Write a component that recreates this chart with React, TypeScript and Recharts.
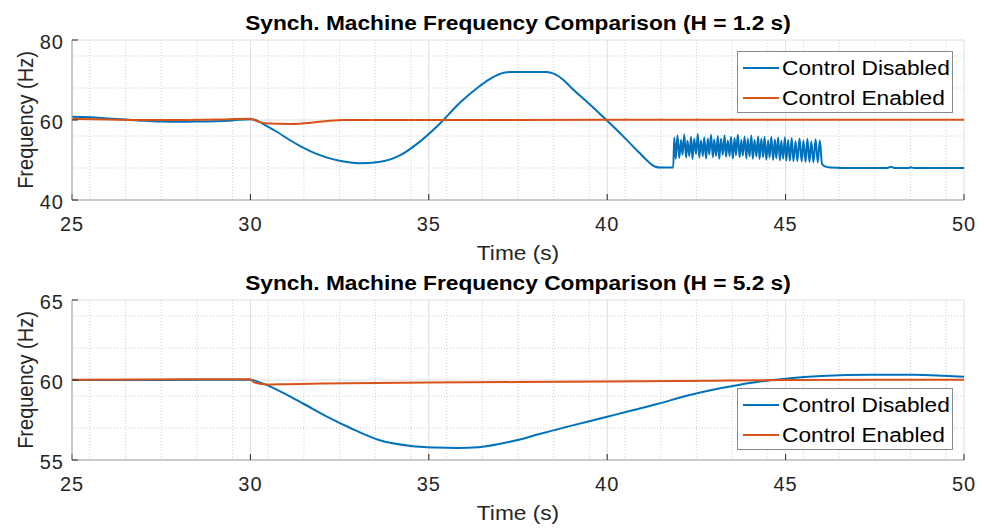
import { LineChart, Line, XAxis, YAxis, CartesianGrid, Legend, Label } from 'recharts';

const BLUE = '#0072BD';
const ORANGE = '#D95319';
const FONT = '"Liberation Sans", Arial, Helvetica, sans-serif';
const STRETCH = 1.135; // the source image is a bit wider than tall

const seriesNames = ['Control Disabled', 'Control Enabled'];
const titles = [
  'Synch. Machine Frequency Comparison (H = 1.2 s)',
  'Synch. Machine Frequency Comparison (H = 5.2 s)',
];

const xTicks = [25, 30, 35, 40, 45, 50];
const xMinor = [
  25.5, 26, 26.5, 27, 27.5, 28, 28.5, 29, 29.5, 30.5, 31, 31.5, 32, 32.5, 33, 33.5, 34, 34.5,
  35.5, 36, 36.5, 37, 37.5, 38, 38.5, 39, 39.5, 40.5, 41, 41.5, 42, 42.5, 43, 43.5, 44, 44.5,
  45.5, 46, 46.5, 47, 47.5, 48, 48.5, 49, 49.5,
];
const topYTicks = [40, 60, 80];
const topYMinor = [44, 48, 52, 56, 64, 68, 72, 76];
const bottomYTicks = [55, 60, 65];
const bottomYMinor = [56, 57, 58, 59, 61, 62, 63, 64];

// [time (s), frequency (Hz)]
const topDisabled: [number, number][] = [
  [25, 60.8], [25.5, 60.7], [26, 60.4], [26.5, 60.1], [27, 59.8], [27.5, 59.6], [28, 59.55],
  [28.5, 59.6], [29, 59.7], [29.5, 59.9], [30, 60.2], [30.15, 60.0], [30.4, 58.8], [30.75, 57.0],
  [31.1, 55.0], [31.45, 53.2], [31.8, 51.7], [32.15, 50.6], [32.5, 49.8], [33.05, 49.2],
  [33.6, 49.5], [34.2, 51.2], [34.75, 54.6], [35.3, 59.0], [35.87, 64.3], [36.43, 68.5],
  [36.8, 70.7], [37.1, 71.8], [37.3, 72], [38.3, 72], [38.5, 71.6], [38.75, 70.2], [39.0, 68.0],
  [39.5, 64.0], [40.0, 59.8], [40.45, 55.9], [40.9, 51.8], [41.2, 49.2], [41.35, 48.3],
  [41.5, 48.1], [41.85, 48.1],
  [41.88, 55.6], [41.92, 50.3], [41.97, 56.2], [42.02, 50.5], [42.07, 55.0], [42.11, 51.3],
  [42.16, 56.4], [42.21, 50.6], [42.25, 54.8], [42.3, 51.0], [42.35, 55.8], [42.39, 50.2],
  [42.44, 55.3], [42.49, 51.5], [42.54, 56.5], [42.58, 50.6], [42.63, 54.9], [42.68, 51.0],
  [42.72, 55.7], [42.77, 50.4], [42.82, 55.4], [42.86, 51.4], [42.91, 56.3], [42.96, 50.7],
  [43.0, 55.1], [43.05, 51.0], [43.1, 56.0], [43.14, 50.3], [43.19, 55.3], [43.24, 51.3],
  [43.29, 56.2], [43.33, 50.8], [43.38, 54.9], [43.43, 51.0], [43.47, 55.8], [43.52, 50.4],
  [43.57, 55.5], [43.61, 51.2], [43.66, 56.4], [43.71, 50.7], [43.76, 55.0], [43.8, 51.1],
  [43.85, 55.9], [43.9, 50.4], [43.94, 55.3], [43.99, 50.9], [44.04, 56.1], [44.08, 50.3],
  [44.13, 55.0], [44.18, 50.9], [44.23, 55.9], [44.27, 50.2], [44.32, 55.3], [44.37, 50.7],
  [44.41, 55.8], [44.46, 50.1], [44.51, 54.9], [44.55, 50.6], [44.6, 55.8], [44.65, 50.0],
  [44.7, 55.1], [44.74, 50.4], [44.79, 55.6], [44.84, 49.9], [44.88, 54.8], [44.93, 50.3],
  [44.98, 55.7], [45.02, 49.8], [45.07, 55.0], [45.12, 49.8], [45.17, 55.5], [45.22, 49.7],
  [45.28, 54.7], [45.33, 49.7], [45.39, 55.4], [45.45, 49.6], [45.5, 54.9], [45.56, 49.5],
  [45.61, 55.3], [45.67, 49.5], [45.72, 54.7], [45.78, 49.4], [45.84, 55.2], [45.9, 49.4],
  [45.96, 54.9], [46.02, 49.0], [46.1, 48.4], [46.25, 48.1], [46.6, 48.0], [47.85, 48.0],
  [47.95, 48.3], [48.05, 48.0], [48.45, 48.0], [48.5, 48.2], [48.6, 48.0], [50, 48.0],
];
const topEnabled: [number, number][] = [
  [25, 60.3], [26, 60.1], [27, 60.0], [28, 60.0], [29, 60.1], [30, 60.3], [30.15, 59.8],
  [30.4, 59.2], [31.1, 59.0], [31.7, 59.3], [32.2, 59.8], [32.6, 60.0], [35, 60.0], [40, 60.05],
  [45, 60.05], [50, 60.05],
];
const bottomDisabled: [number, number][] = [
  [25, 60.0], [27.5, 60.0], [30, 60.02], [30.2, 59.9], [30.5, 59.65], [31, 59.1], [31.5, 58.5],
  [32.2, 57.65], [32.8, 57.0], [33.6, 56.25], [34.5, 55.88], [35.2, 55.78], [35.8, 55.75],
  [36.4, 55.8], [37.3, 56.15], [38.1, 56.62], [39, 57.15], [40, 57.7], [40.6, 58.05], [41.4, 58.5],
  [42.2, 59.0], [43.2, 59.5], [44.1, 59.85], [45.0, 60.08], [46.0, 60.25], [47.4, 60.33],
  [48.6, 60.33], [49.4, 60.27], [50, 60.2],
];
const bottomEnabled: [number, number][] = [
  [25, 60.02], [30, 60.05], [30.1, 59.85], [30.5, 59.72], [31, 59.74], [32, 59.78], [35, 59.84],
  [40, 59.9], [43, 59.96], [45, 60.0], [50, 60.02],
];

const toPoints = (pts: [number, number][]) => pts.map(([t, f]) => ({ t, f }));

function LegendBox({ payload }: any) {
  return (
    <div
      style={{
        position: 'relative',
        width: 216,
        height: 62,
        boxSizing: 'border-box',
        border: '1px solid #8a8a8a',
        background: '#fff',
      }}
    >
      {(payload || []).map((item: any, i: number) => (
        <div
          key={item.value}
          style={{
            position: 'absolute',
            left: 5,
            top: (i === 0 ? 16 : 46) - 12,
            height: 24,
            display: 'flex',
            alignItems: 'center',
          }}
        >
          <svg width={36} height={4} style={{ display: 'block' }}>
            <line x1={0} y1={2} x2={36} y2={2} stroke={item.color} strokeWidth={2} />
          </svg>
          <span
            style={{
              marginLeft: 3,
              fontSize: 20,
              color: '#000',
              whiteSpace: 'nowrap',
              display: 'inline-block',
              transform: `scaleX(${STRETCH})`,
              transformOrigin: 'left center',
            }}
          >
            {item.value}
          </span>
        </div>
      ))}
    </div>
  );
}

type PanelProps = {
  title: string;
  disabled: [number, number][];
  enabled: [number, number][];
  yTicks: number[];
  yMinor: number[];
  height: number;
  top: number;
  legendTop: number;
};

function Panel({ title, disabled, enabled, yTicks, yMinor, height, top, legendTop }: PanelProps) {
  const yDomain = [yTicks[0], yTicks[yTicks.length - 1]];
  const tickStyle = { fontSize: 20, fill: '#262626', letterSpacing: 1 };
  return (
    <div style={{ position: 'relative', width: 984, height }}>
      <div
        style={{
          position: 'absolute',
          left: 72,
          width: 892,
          top: top - 27,
          textAlign: 'center',
          fontSize: 20,
          lineHeight: '20px',
          fontWeight: 'bold',
          color: '#000',
          whiteSpace: 'nowrap',
          transform: `scaleX(${STRETCH})`,
          zIndex: 1,
        }}
      >
        {title}
      </div>
      <LineChart width={984} height={height} margin={{ top, right: 20, bottom: 0, left: 22 }}>
        <CartesianGrid
          stroke="#cfcfcf"
          strokeDasharray="1 2"
          verticalValues={xMinor}
          horizontalValues={yMinor}
        />
        <CartesianGrid stroke="#dedede" />
        <XAxis
          dataKey="t"
          type="number"
          domain={[25, 50]}
          ticks={xTicks}
          allowDataOverflow
          height={height - top - 160}
          tickSize={-6}
          tickMargin={23}
          axisLine={{ stroke: '#a6a6a6' }}
          tickLine={{ stroke: '#262626' }}
          tick={tickStyle}
        >
          <Label
            content={({ viewBox }: any) => (
              <text
                transform={`translate(${viewBox.x + viewBox.width / 2},${viewBox.y + 60}) scale(${STRETCH},1)`}
                textAnchor="middle"
                fontSize={20}
                fill="#262626"
              >
                Time (s)
              </text>
            )}
          />
        </XAxis>
        <XAxis
          xAxisId="top"
          orientation="top"
          type="number"
          domain={[25, 50]}
          ticks={xTicks}
          allowDataOverflow
          height={0}
          tickSize={-6}
          tick={false}
          axisLine={{ stroke: '#a6a6a6' }}
          tickLine={{ stroke: '#262626' }}
        />
        <YAxis
          type="number"
          domain={yDomain}
          ticks={yTicks}
          allowDataOverflow
          width={50}
          tickSize={-6}
          tickMargin={14}
          axisLine={{ stroke: '#a6a6a6' }}
          tickLine={{ stroke: '#262626' }}
          tick={{ ...tickStyle, dy: 2 }}
        >
          <Label
            content={({ viewBox }: any) => (
              <text
                transform={`translate(33,${viewBox.y + viewBox.height / 2}) scale(${STRETCH},1) rotate(-90)`}
                textAnchor="middle"
                fontSize={20}
                fill="#262626"
              >
                Frequency (Hz)
              </text>
            )}
          />
        </YAxis>
        <YAxis
          yAxisId="right"
          orientation="right"
          type="number"
          domain={yDomain}
          ticks={yTicks}
          allowDataOverflow
          width={0}
          tickSize={-6}
          tick={false}
          axisLine={{ stroke: '#a6a6a6' }}
          tickLine={{ stroke: '#262626' }}
        />
        <Legend
          layout="vertical"
          align="center"
          verticalAlign="middle"
          content={LegendBox}
          wrapperStyle={{ left: 737, top: legendTop, width: 216, height: 62 }}
        />
        <Line
          data={toPoints(disabled)}
          dataKey="f"
          name={seriesNames[0]}
          type="monotone"
          stroke={BLUE}
          strokeWidth={2}
          dot={false}
          isAnimationActive={false}
        />
        <Line
          data={toPoints(enabled)}
          dataKey="f"
          name={seriesNames[1]}
          type="monotone"
          stroke={ORANGE}
          strokeWidth={2}
          dot={false}
          isAnimationActive={false}
        />
      </LineChart>
    </div>
  );
}

export default function App() {
  return (
    <div
      style={{
        position: 'absolute',
        left: 0,
        top: 0,
        width: 984,
        height: 531,
        background: '#fff',
        fontFamily: FONT,
      }}
    >
      <Panel
        title={titles[0]}
        disabled={topDisabled}
        enabled={topEnabled}
        yTicks={topYTicks}
        yMinor={topYMinor}
        height={268}
        top={40}
        legendTop={51}
      />
      <Panel
        title={titles[1]}
        disabled={bottomDisabled}
        enabled={bottomEnabled}
        yTicks={bottomYTicks}
        yMinor={bottomYMinor}
        height={263}
        top={32}
        legendTop={120}
      />
    </div>
  );
}
